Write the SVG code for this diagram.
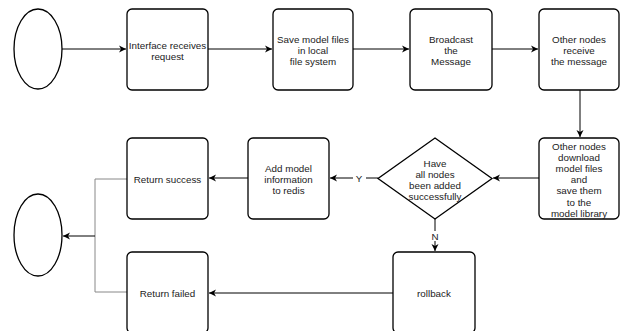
<svg xmlns="http://www.w3.org/2000/svg" width="625" height="331" viewBox="0 0 625 331">
<defs>
<marker id="arr" markerWidth="8" markerHeight="8" refX="7" refY="4" orient="auto" markerUnits="userSpaceOnUse">
<path d="M0,0.5 L7,4 L0,7.5 L2,4 Z" fill="#000"/>
</marker>
</defs>
<style>
.box{fill:#fff;stroke:#000;stroke-width:1.3}
.t{font-family:"Liberation Sans",Arial,sans-serif;font-size:9.8px;fill:#222;text-anchor:middle}
.c{fill:none;stroke:#000;stroke-width:1}
.g{fill:none;stroke:#888;stroke-width:1}
</style>
<rect width="625" height="331" fill="#fff"/>
<g id="connectors">
<path class="c" d="M62,49 H126" marker-end="url(#arr)"/>
<path class="c" d="M208,49 H272" marker-end="url(#arr)"/>
<path class="c" d="M353,49 H409" marker-end="url(#arr)"/>
<path class="c" d="M492,49 H538" marker-end="url(#arr)"/>
<path class="c" d="M580,90 V137" marker-end="url(#arr)"/>
<path class="c" d="M539,178 H493" marker-end="url(#arr)"/>
<path class="c" d="M378,178 H366 M353,178 H330" marker-end="url(#arr)"/>
<text class="t" x="359" y="181.5">Y</text>
<path class="c" d="M248,178 H209" marker-end="url(#arr)"/>
<path class="c" d="M435,219 V231 M435,241 V251" marker-end="url(#arr)"/>
<text class="t" x="435" y="239.5">N</text>
<path class="c" d="M393,293 H209" marker-end="url(#arr)"/>
<path class="g" d="M127,179 H95 V292 H127"/>
<path class="c" d="M95,236 H63" marker-end="url(#arr)"/>
</g>
<g id="start"><ellipse class="box" cx="38" cy="49" rx="24" ry="40"/></g>
<g id="interface"><rect class="box" x="127" y="9" width="81" height="81" rx="5"/>
<text class="t" x="167.5" y="48.5">Interface receives</text><text class="t" x="167.5" y="59.5">request</text></g>
<g id="save"><rect class="box" x="273" y="9" width="80" height="81" rx="5"/>
<text class="t" x="313" y="42.5">Save model files</text><text class="t" x="313" y="53.5">in local</text><text class="t" x="313" y="64.5">file system</text></g>
<g id="broadcast"><rect class="box" x="410" y="9" width="82" height="81" rx="5"/>
<text class="t" x="451" y="42.5">Broadcast</text><text class="t" x="451" y="53.5">the</text><text class="t" x="451" y="64.5">Message</text></g>
<g id="receive"><rect class="box" x="539" y="9" width="80" height="81" rx="5"/>
<text class="t" x="579" y="42.5">Other nodes</text><text class="t" x="579" y="53.5">receive</text><text class="t" x="579" y="64.5">the message</text></g>
<g id="download"><rect class="box" x="539" y="138" width="80" height="81" rx="5"/>
<text class="t" x="579" y="149.5">Other nodes</text><text class="t" x="579" y="160.7">download</text><text class="t" x="579" y="171.9">model files</text><text class="t" x="579" y="183.1">and</text><text class="t" x="579" y="194.3">save them</text><text class="t" x="579" y="205.5">to the</text><text class="t" x="579" y="216.7">model library</text></g>
<g id="decision"><path class="box" d="M435,138 L492,178.5 L435,219 L378,178.5 Z"/>
<text class="t" x="435" y="166.5">Have</text><text class="t" x="435" y="177.5">all nodes</text><text class="t" x="435" y="188.5">been added</text><text class="t" x="435" y="199.5">successfully</text></g>
<g id="redis"><rect class="box" x="248" y="138" width="81" height="81" rx="5"/>
<text class="t" x="288.5" y="171.5">Add model</text><text class="t" x="288.5" y="182.5">information</text><text class="t" x="288.5" y="193.5">to redis</text></g>
<g id="success"><rect class="box" x="127" y="138" width="81" height="81" rx="5"/>
<text class="t" x="167.5" y="182.5">Return success</text></g>
<g id="rollback"><rect class="box" x="393" y="252" width="82" height="81" rx="5"/>
<text class="t" x="434" y="296.5">rollback</text></g>
<g id="failed"><rect class="box" x="127" y="252" width="81" height="81" rx="5"/>
<text class="t" x="167.5" y="296.5">Return failed</text></g>
<g id="end"><ellipse class="box" cx="38" cy="235" rx="24" ry="41"/></g>
</svg>
